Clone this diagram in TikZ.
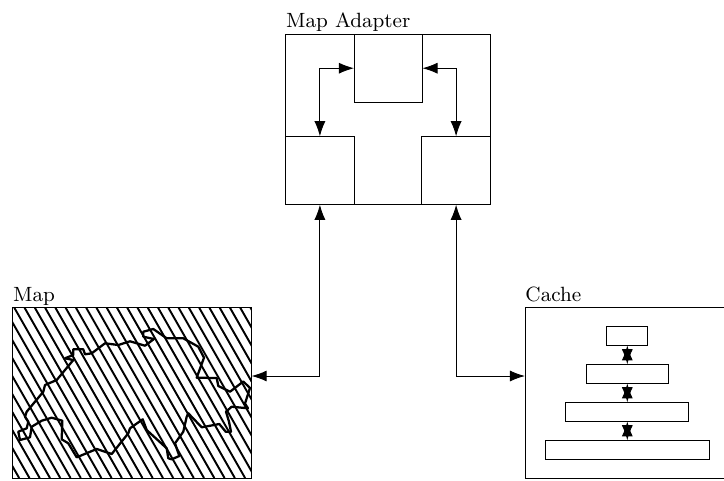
\documentclass[tikz,border=0pt]{standalone}
\usetikzlibrary{arrows.meta,calc}
\tikzset{
  x=0.014663cm,y=-0.014663cm,
  box/.style={draw,line width=0.4pt,rectangle,inner sep=0pt,outer sep=0pt,minimum width=#1*0.014663cm},
  tall/.style={minimum height=#1*0.014663cm},
  lbl/.style={font=\fontsize{8.6}{10}\selectfont,inner sep=0pt,anchor=base west},
  link/.style={line width=0.4pt,{Latex[length=6.3pt,width=4.6pt]}-{Latex[length=6.3pt,width=4.6pt]}},
  hatch/.style={line width=0.8pt},
  border/.style={line width=0.95pt,line join=round}
}
\begin{document}
\begin{tikzpicture}
\useasboundingbox (0,0) rectangle (724,480);
% map hatch
\begin{scope}
\clip (12.7,307.7) rectangle (251.6,478);
\foreach \k in {-11,-10,...,24}{
  \pgfmathsetmacro{\xa}{14.3+\k*10.27}
  \pgfmathsetmacro{\xb}{\xa+97.3}
  \draw[hatch] (\xa,307.7) -- (\xb,478);
}
\end{scope}
\node[box=238.9,tall=170.3] (map) at (132.15,392.85) {};
\draw[border] (18.3,431.7)--(26.7,428.3)--(28.3,421.7)--(25,416.7)--(26.7,411.7)--(43.3,391.7)--(45,385)--(56.7,380)--(65,370)--(73.3,360)--(65,358.3)--(73.3,355)--(73.3,349.3)--(83.3,349.3)--(85,354.3)--(91.7,353.3)--(105,343.3)--(118.3,345)--(130,341.3)--(145,345.7)--(154,339)--(143.3,336.7)--(143.3,331.7)--(153.3,329)--(166.7,338.3)--(183.3,338.3)--(198.3,346.7)--(204,357.7)--(196.7,377.7)--(216.7,378)--(218.3,386)--(230,391.7)--(243.3,381.5)--(250,388)--(245,403.5)--(248,408.3)--(231.7,406.7)--(226,411.7)--(229,421.7)--(231,431.7)--(225.7,431.7)--(219.3,424)--(201.7,427.3)--(188.3,413.3)--(186.7,416.7)--(183.3,431.7)--(175,443.3)--(179.3,456)--(171.7,459.3)--(168.3,458.3)--(166.7,448.3)--(146.7,430)--(142.7,419.3)--(130,428.3)--(128.3,433.3)--(111.7,454)--(96.7,449)--(76.7,457.3)--(68.3,443.3)--(61.7,439.3)--(62.3,420.7)--(51.7,417.7)--(41.7,420.7)--(31.7,426.7)--(30,437.3)--(20,440)--cycle;
\node[lbl] (maplabel) at (12.7,301) {Map};
% adapter
\node[box=204.6,tall=170.7] (adapter) at (388,119.35) {};
\node[lbl] (adapterlabel) at (285.7,27.3) {Map Adapter};
\node[box=68.4,tall=68.4] (top) at (388.2,68.2) {};
\node[box=68.4,tall=68.4] (left) at (319.9,170.5) {};
\node[box=68.4,tall=68.4] (right) at (456.1,170.5) {};
\draw[link] (left.north) |- (top.west);
\draw[link] (right.north) |- (top.east);
% cache
\node[box=204.6,tall=170.3] (cache) at (627.3,392.85) {};
\node[lbl] (cachelabel) at (525,301.5) {Cache};
\node[box=41,tall=19] (c1) at (627.3,335.8) {};
\node[box=82.4,tall=19] (c2) at (627.3,373.8) {};
\node[box=123,tall=19] (c3) at (627.3,411.8) {};
\node[box=164,tall=19] (c4) at (627.3,449.8) {};
\draw[link] (c1) -- (c2);
\draw[link] (c2) -- (c3);
\draw[link] (c3) -- (c4);
% ports
\coordinate (mapport) at (251.6,376);
\coordinate (cacheport) at (525,376);
\draw[link] (left.south) |- (mapport);
\draw[link] (right.south) |- (cacheport);
\end{tikzpicture}
\end{document}
